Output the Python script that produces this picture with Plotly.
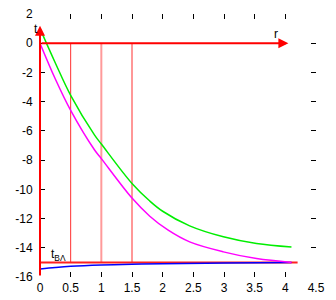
import plotly.graph_objects as go

# green curve
r_green = [0.0, 0.25, 0.5, 0.89, 1.0, 1.5, 1.79, 2.0, 2.44, 2.99, 3.53, 4.1]
t_green = [1.0, -1.35, -3.57, -6.29, -6.9, -9.6, -10.8, -11.5, -12.5, -13.25, -13.71, -13.95]
# magenta curve
r_mag = [0.0, 0.25, 0.5, 0.89, 1.0, 1.5, 1.79, 2.09, 2.44, 2.99, 3.53, 4.1]
t_mag = [0.0, -2.45, -4.6, -7.31, -7.9, -10.6, -11.84, -12.8, -13.6, -14.28, -14.74, -15.0]
# blue curve
r_blue = [0.0, 0.25, 0.5, 1.0, 1.5, 2.0, 3.0, 4.1]
t_blue = [-15.45, -15.35, -15.27, -15.18, -15.13, -15.09, -15.04, -15.0]

# reference lines
r_verticals = [0.5, 1.0, 1.5]
vert_colors = ["#ff3030", "#ff9a9a", "#ff3030"]
vert_widths = [1, 2, 1]
t_floor = -15.0
r_floor_end = 4.2
r_axis_end = 4.05
t_axis_end = 1.2
t_axis_start = -16.0

x_range = [0, 4.5]
y_range = [-16, 2]
x_ticks = [0, 0.5, 1, 1.5, 2, 2.5, 3, 3.5, 4, 4.5]
x_ticklabels = ["0", "0.5", "1", "1.5", "2", "2.5", "3", "3.5", "4", "4.5"]
y_ticks = [-16, -14, -12, -10, -8, -6, -4, -2, 0, 2]
y_ticklabels = ["-16", "-14", "-12", "-10", "-8", "-6", "-4", "-2", "0", "2"]

fig = go.Figure()

for rv, c, w in zip(r_verticals, vert_colors, vert_widths):
    fig.add_trace(go.Scatter(x=[rv, rv], y=[0, t_floor], mode="lines",
                             line=dict(color=c, width=w), showlegend=False))

fig.add_trace(go.Scatter(x=[0, r_floor_end], y=[t_floor, t_floor], mode="lines",
                         line=dict(color="#ff2020", width=2), showlegend=False))

fig.add_trace(go.Scatter(x=r_blue, y=t_blue, mode="lines", line_shape="spline",
                         line=dict(color="#0000ff", width=1.5), showlegend=False))
fig.add_trace(go.Scatter(x=r_green, y=t_green, mode="lines", line_shape="spline",
                         line=dict(color="#00ee00", width=1.5), showlegend=False))
fig.add_trace(go.Scatter(x=r_mag, y=t_mag, mode="lines", line_shape="spline",
                         line=dict(color="#ff00ff", width=1.5), showlegend=False))

# axis arrows
fig.add_annotation(x=0, y=t_axis_end, ax=0, ay=t_axis_start, xref="x", yref="y",
                   axref="x", ayref="y", text="", showarrow=True, arrowhead=2,
                   arrowsize=1, arrowwidth=2, arrowcolor="#ff0000")
fig.add_annotation(x=r_axis_end, y=0, ax=0, ay=0, xref="x", yref="y",
                   axref="x", ayref="y", text="", showarrow=True, arrowhead=2,
                   arrowsize=1, arrowwidth=2, arrowcolor="#ff0000")

font_main = dict(family="Liberation Sans, Arial, sans-serif", size=12, color="black")
# "t" label sits just left of the plot area -> paper x coordinate
t_label_r, t_label_t = -0.13, 0.95
fig.add_annotation(x=(t_label_r - x_range[0]) / (x_range[1] - x_range[0]),
                   y=t_label_t, text="t", showarrow=False, xref="paper", yref="y",
                   font=font_main)
fig.add_annotation(x=3.84, y=0.62, text="r", showarrow=False, xref="x", yref="y", font=font_main)
fig.add_annotation(x=0.3, y=-14.5, text="t<sub>BΛ</sub>", showarrow=False, xref="x", yref="y",
                   font=font_main)

# ticks inside on all four sides, no visible border (white line under the traces)
axis_common = dict(showgrid=False, zeroline=False, showline=True, linecolor="white",
                   linewidth=1, mirror="ticks", ticks="inside",
                   ticklen=5, tickwidth=1, tickcolor="#000000",
                   tickfont=font_main, automargin=False, ticklabeloverflow="allow",
                   layer="below traces")
fig.update_layout(
    xaxis=dict(range=x_range, tickvals=x_ticks, ticktext=x_ticklabels, **axis_common),
    yaxis=dict(range=y_range, tickvals=y_ticks, ticktext=y_ticklabels,
               ticklabelstandoff=4, **axis_common),
)

# page body has an 8px default margin, so the figure is 8px smaller and margins shifted
fig.update_layout(width=328, height=292, margin=dict(l=32, r=20, t=6, b=23, autoexpand=False),
                  plot_bgcolor="white", paper_bgcolor="white", showlegend=False,
                  font=font_main)

fig.write_html("out.html")
